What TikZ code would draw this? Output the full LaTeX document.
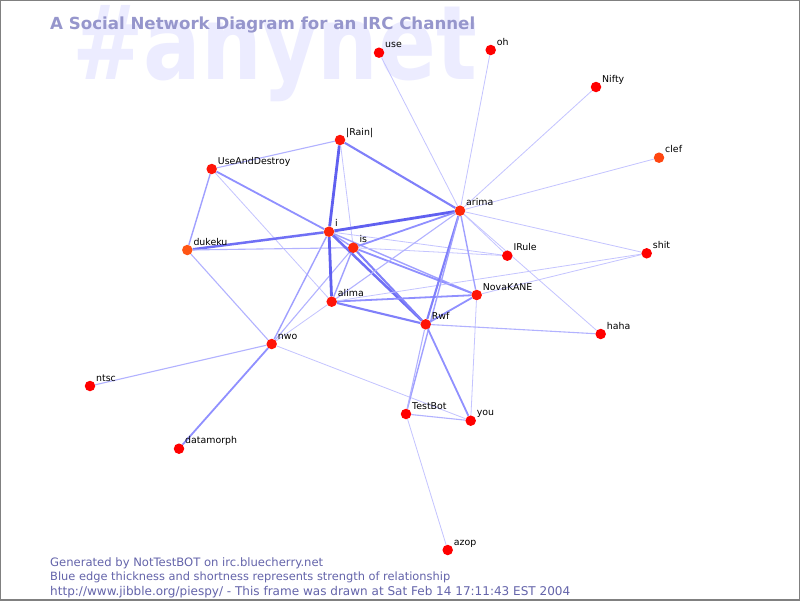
\documentclass[tikz,border=0pt]{standalone}
\usepackage{fontspec}
\setmainfont{DejaVu Sans}
\usepackage{graphicx}
\definecolor{wm}{RGB}{236,236,255}
\definecolor{ttl}{RGB}{150,150,204}
\definecolor{foot}{RGB}{100,100,170}
\definecolor{cA}{RGB}{255,0,0}
\definecolor{cB}{RGB}{255,20,8}
\definecolor{cC}{RGB}{255,40,12}
\definecolor{cD}{RGB}{255,70,16}
\definecolor{cE}{RGB}{255,85,20}
\definecolor{e1}{RGB}{196,196,255}
\definecolor{e15}{RGB}{178,178,255}
\definecolor{e2}{RGB}{160,160,255}
\definecolor{e25}{RGB}{144,144,255}
\definecolor{e3}{RGB}{128,128,250}
\definecolor{e35}{RGB}{112,112,245}
\definecolor{e4}{RGB}{96,96,240}
\pgfdeclarelayer{bg}
\pgfsetlayers{bg,main}
\tikzset{
  dot/.style={circle,inner sep=0pt,minimum size=10.5pt,draw=none},
  lbl/.style={anchor=base west,inner sep=0pt,font=\fontsize{9.4}{11}\selectfont,text=black},
  wA/.style={line width=0.8pt,draw=e1},
  wB/.style={line width=1.1pt,draw=e15},
  wC/.style={line width=1.4pt,draw=e2},
  wD/.style={line width=1.8pt,draw=e25},
  wE/.style={line width=2.1pt,draw=e3},
  wF/.style={line width=2.5pt,draw=e35},
  wG/.style={line width=2.8pt,draw=e4},
}
\newcommand\person[5]{%
  \node[dot,fill=#4] (#1) at (#2,#3) {};
  \node[lbl] (#1-l) at (#2+6,#3-5) {#5};}
\begin{document}
\begin{tikzpicture}[x=1pt,y=-1pt]
\useasboundingbox (0,0) rectangle (800,600);
\begin{pgfonlayer}{bg}
\fill[white] (0,0) rectangle (800,600);
\node[anchor=base west,inner sep=0pt,text=wm] (wmark) at (72,79)
  {\resizebox{405pt}{74pt}{\bfseries\#anynet}};
\end{pgfonlayer}
\node[anchor=base west,inner sep=0pt,text=ttl] (title) at (50,29)
  {\resizebox{425pt}{!}{\bfseries A Social Network Diagram for an IRC Channel}};
\node[anchor=base west,inner sep=0pt,text=foot] (f1) at (50,566)
  {\resizebox{273pt}{!}{Generated by NotTestBOT on irc.bluecherry.net}};
\node[anchor=base west,inner sep=0pt,text=foot] (f2) at (50,580.5)
  {\resizebox{400pt}{!}{Blue edge thickness and shortness represents strength of relationship}};
\node[anchor=base west,inner sep=0pt,text=foot] (f3) at (50,595)
  {\resizebox{520pt}{!}{http://www.jibble.org/piespy/ - This frame was drawn at Sat Feb 14 17:11:43 EST 2004}};
% nodes
\person{use}{379}{52.7}{cA}{use}
\person{oh}{490.7}{50}{cA}{oh}
\person{nifty}{596}{87}{cA}{Nifty}
\person{clef}{659}{157.7}{cD}{clef}
\person{rain}{340}{140}{cB}{|Rain|}
\person{uad}{211.7}{169}{cB}{UseAndDestroy}
\person{arima}{460}{210.7}{cC}{arima}
\person{i}{329}{231.7}{cC}{i}
\person{is}{353.3}{247.7}{cC}{is}
\person{irule}{507.3}{255.7}{cA}{IRule}
\person{shit}{646.7}{253.3}{cA}{shit}
\person{nova}{476.7}{295}{cB}{NovaKANE}
\person{alima}{331.7}{301.7}{cB}{alima}
\person{rwf}{425.7}{324.3}{cB}{Rwf}
\person{haha}{600.7}{334}{cA}{haha}
\person{dukeku}{187.3}{250}{cE}{dukeku}
\person{nwo}{271.7}{344}{cB}{nwo}
\person{ntsc}{90}{386}{cA}{ntsc}
\person{datamorph}{179}{448.7}{cA}{datamorph}
\person{testbot}{406}{414}{cA}{TestBot}
\person{you}{470.7}{420.7}{cA}{you}
\person{azop}{447.7}{550}{cA}{azop}
% edges
\begin{pgfonlayer}{bg}
\draw[wA] (use) -- (arima);
\draw[wA] (oh) -- (arima);
\draw[wA] (nifty) -- (arima);
\draw[wA] (clef) -- (arima);
\draw[wA] (shit) -- (arima);
\draw[wA] (arima) -- (irule);
\draw[wA] (arima) -- (haha);
\draw[wE] (rain) -- (arima);
\draw[wG] (rain) -- (i);
\draw[wA] (rain) -- (is);
\draw[wB] (rain) -- (uad);
\draw[wG] (i) -- (arima);
\draw[wD] (uad) -- (i);
\draw[wC] (uad) -- (dukeku);
\draw[wA] (uad) -- (alima);
\draw[wF] (dukeku) -- (i);
\draw[wB] (dukeku) -- (is);
\draw[wB] (dukeku) -- (nwo);
\draw[wC] (nwo) -- (i);
\draw[wB] (nwo) -- (is);
\draw[wA] (nwo) -- (alima);
\draw[wB] (nwo) -- (ntsc);
\draw[wD] (nwo) -- (datamorph);
\draw[wA] (nwo) -- (you);
\draw[wG] (i) -- (alima);
\draw[wC] (i) -- (is);
\draw[wF] (i) -- (rwf);
\draw[wC] (i) -- (nova);
\draw[wA] (i) -- (irule);
\draw[wA] (is) -- (irule);
\draw[wC] (is) -- (alima);
\draw[wE] (is) -- (rwf);
\draw[wD] (is) -- (nova);
\draw[wD] (is) -- (arima);
\draw[wB] (alima) -- (arima);
\draw[wD] (alima) -- (nova);
\draw[wE] (alima) -- (rwf);
\draw[wA] (alima) -- (shit);
\draw[wE] (arima) -- (rwf);
\draw[wC] (arima) -- (testbot);
\draw[wC] (arima) -- (nova);
\draw[wD] (nova) -- (rwf);
\draw[wA] (nova) -- (you);
\draw[wA] (nova) -- (shit);
\draw[wB] (rwf) -- (haha);
\draw[wB] (rwf) -- (testbot);
\draw[wD] (rwf) -- (you);
\draw[wB] (testbot) -- (you);
\draw[wA] (testbot) -- (azop);
\end{pgfonlayer}
\draw[gray,line width=1.5pt] (0,0) rectangle (800,600);
\end{tikzpicture}
\end{document}
